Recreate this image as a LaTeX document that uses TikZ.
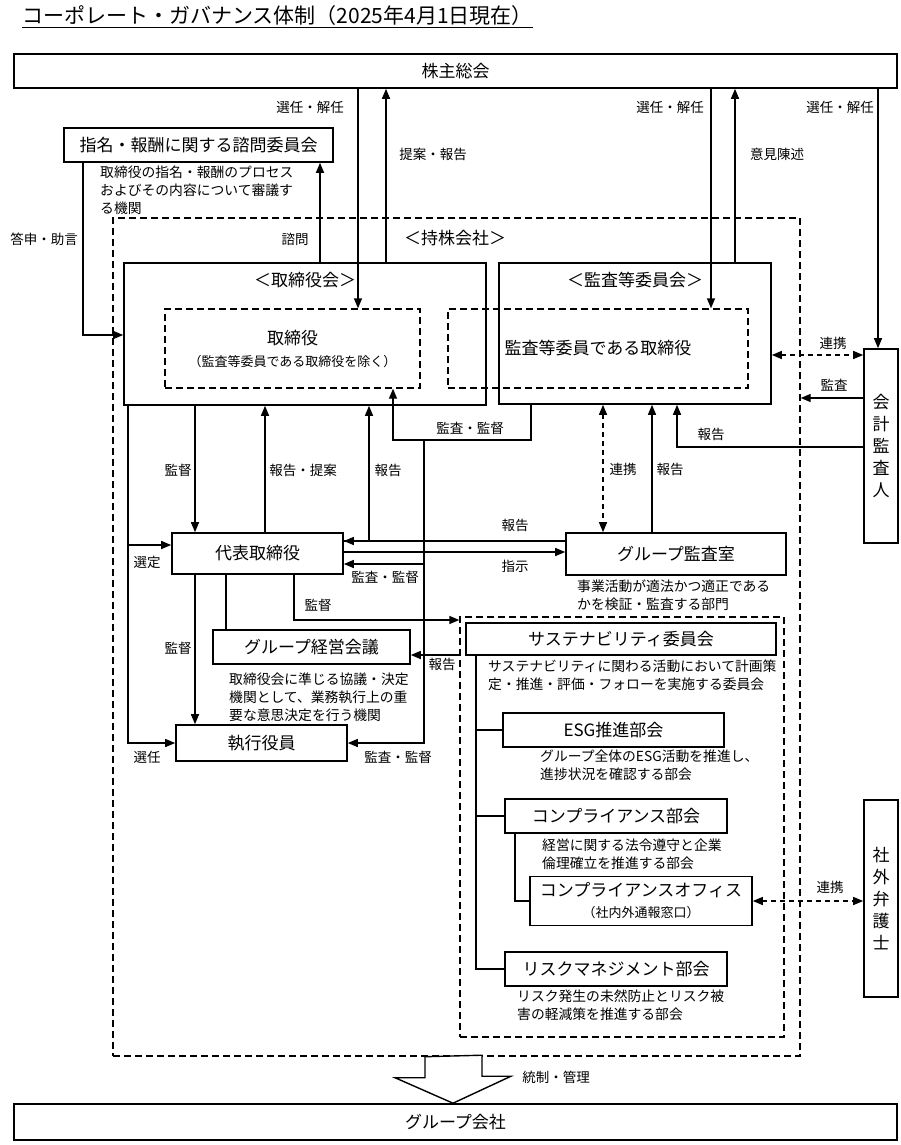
\documentclass[tikz,border=0pt]{standalone}
\usepackage{fontspec}
\setmainfont{Noto Sans CJK JP}
\usetikzlibrary{arrows.meta, calc}

\begin{document}
\begin{tikzpicture}[x=1pt, y=-1pt,
    box/.style={draw, line width=1.6pt, inner sep=0pt, font=\fontsize{17}{21}\selectfont},
    dbox/.style={draw, line width=1.4pt, dash pattern=on 7pt off 4pt, inner sep=0pt},
    head/.style={inner sep=0pt, font=\fontsize{17}{21}\selectfont},
    lbl/.style={inner sep=0pt, font=\fontsize{13.5}{17}\selectfont},
    desc/.style={anchor=north west, inner sep=0pt, align=left, font=\fontsize{13.8}{18}\selectfont},
    link/.style={line width=1.4pt},
    arr/.style={line width=1.4pt, -{Triangle[length=10pt, width=8pt]}},
    darr/.style={line width=1.4pt, dash pattern=on 5pt off 4pt, {Triangle[length=10pt, width=8pt]}-{Triangle[length=10pt, width=8pt]}}]
    \useasboundingbox (0,0) rectangle (900,1145);

    % Title
    \node[anchor=base west, inner sep=0pt, font=\fontsize{21}{25}\selectfont] (title) at (22,24) {コーポレート・ガバナンス体制（2025年4月1日現在）};
    \draw[line width=1pt] ([yshift=-4pt]title.base west) -- ([yshift=-4pt]title.base east);

    % Shareholders and group companies
    \node[box, minimum width=883, minimum height=34] (kabu) at (455.5,71) {株主総会};
    \node[box, minimum width=883, minimum height=36] (group) at (455.5,1122) {グループ会社};

    % Advisory committee
    \node[box, minimum width=269, minimum height=34] (shimon) at (198.5,145) {指名・報酬に関する諮問委員会};
    \node[desc] (shimondesc) at (100,166) {取締役の指名・報酬のプロセス\\およびその内容について審議す\\る機関};

    % Holding company
    \node[dbox, minimum width=687, minimum height=838] (hd) at (456.5,637) {};
    \node[head] (hdlbl) at (455,238) {＜持株会社＞};

    % Board of directors
    \node[box, minimum width=362, minimum height=142] (board) at (305,334) {};
    \node[head] (boardlbl) at (305,280) {＜取締役会＞};
    \node[dbox, minimum width=255, minimum height=79, align=center, font=\fontsize{17}{22}\selectfont] (dirs) at (292.5,348.5) {取締役\\{\fontsize{13}{16}\selectfont （監査等委員である取締役を除く）}};

    % Audit and supervisory committee
    \node[box, minimum width=272, minimum height=141] (acb) at (635,333.5) {};
    \node[head] (acblbl) at (635,280) {＜監査等委員会＞};
    \node[dbox, minimum width=300, minimum height=79, font=\fontsize{17}{21}\selectfont] (acdir) at (598,348.5) {監査等委員である取締役};

    % Accounting auditor
    \node[box, minimum width=34, minimum height=194, align=center, font=\fontsize{17}{22}\selectfont] (auditor) at (881,446) {会\\計\\監\\査\\人};

    % Executive side
    \node[box, minimum width=171, minimum height=41] (rep) at (257.5,553.5) {代表取締役};
    \node[box, minimum width=220, minimum height=42] (gaudit) at (676,554) {グループ監査室};
    \node[desc] (gauditdesc) at (577,580) {事業活動が適法かつ適正である\\かを検証・監査する部門};
    \node[box, minimum width=197, minimum height=34] (gmgmt) at (311.5,647) {グループ経営会議};
    \node[desc] (gmgmtdesc) at (229,673) {取締役会に準じる協議・決定\\機関として、業務執行上の重\\要な意思決定を行う機関};
    \node[box, minimum width=171, minimum height=36] (exec) at (261.5,743) {執行役員};

    % Sustainability committee
    \node[dbox, minimum width=324, minimum height=420] (sus) at (622,827) {};
    \node[box, minimum width=310, minimum height=32] (susc) at (621,639) {サステナビリティ委員会};
    \node[desc] (suscdesc) at (488,660) {サステナビリティに関わる活動において計画策\\定・推進・評価・フォローを実施する委員会};
    \node[box, minimum width=221, minimum height=34] (esg) at (613.5,730) {ESG推進部会};
    \node[desc] (esgdesc) at (540,750) {グループ全体のESG活動を推進し、\\進捗状況を確認する部会};
    \node[box, minimum width=222, minimum height=34] (comp) at (616,816) {コンプライアンス部会};
    \node[desc] (compdesc) at (542,839) {経営に関する法令遵守と企業\\倫理確立を推進する部会};
    \node[box, minimum width=222, minimum height=49, align=center] (compo) at (641,901) {コンプライアンスオフィス\\{\fontsize{13}{16}\selectfont （社内外通報窓口）}};
    \node[box, minimum width=222, minimum height=34] (risk) at (616,969) {リスクマネジメント部会};
    \node[desc] (riskdesc) at (517,990) {リスク発生の未然防止とリスク被\\害の軽減策を推進する部会};

    % Outside lawyer
    \node[box, minimum width=34, minimum height=197, align=center, font=\fontsize{17}{22}\selectfont] (lawyer) at (881,898.5) {社\\外\\弁\\護\\士};

    % Shareholders' meeting links
    \draw[arr] (kabu.south -| 358,0) -- (dirs.north -| 358,0);
    \draw[arr] (board.north -| 386,0) -- (kabu.south -| 386,0);
    \draw[arr] (kabu.south -| 711,0) -- (acdir.north -| 711,0);
    \draw[arr] (acb.north -| 735,0) -- (kabu.south -| 735,0);
    \draw[arr] (kabu.south -| 878,0) -- (auditor.north -| 878,0);
    \node[lbl] (lsel1) at (310,107) {選任・解任};
    \node[lbl] (lprop) at (433,154) {提案・報告};
    \node[lbl] (lsel2) at (670,107) {選任・解任};
    \node[lbl] (lopin) at (777,154) {意見陳述};
    \node[lbl] (lsel3) at (840,107) {選任・解任};

    % Advisory committee links
    \draw[arr] (shimon.south -| 83,0) |- (board.west |- 0,335);
    \draw[arr] (board.north -| 320,0) -- (shimon.south -| 320,0);
    \node[lbl] (ltoshin) at (44,239) {答申・助言};
    \node[lbl] (lshimon) at (295,239) {諮問};

    % Audit committee to directors and executives
    \draw[arr] (acb.south -| 531,0) -- ++(0,35) -| (dirs.south -| 393,0);
    \coordinate (aj) at (424,440);
    \draw[arr] (aj) |- (exec.east);
    \draw[arr] (aj |- 0,564) -- (rep.east |- 0,564);
    \node[lbl] (lkansa1) at (470,428) {監査・監督};
    \node[lbl] (lkansa2) at (385,577) {監査・監督};
    \node[lbl] (lkansa3) at (398,757) {監査・監督};

    % Accounting auditor links
    \draw[darr] (acb.east |- 0,355) -- (auditor.west |- 0,355);
    \draw[arr] (auditor.west |- 0,398) -- (hd.east |- 0,398);
    \draw[arr] (auditor.west |- 0,447) -| (acb.south -| 677,0);
    \node[lbl] (lrenkei1) at (833,343) {連携};
    \node[lbl] (lkansa4) at (834,385) {監査};
    \node[lbl] (lhoukoku1) at (711,434) {報告};

    % Board and representative director
    \draw[arr] (board.south -| 195,0) -- (rep.north -| 195,0);
    \draw[arr] (rep.north -| 265,0) -- (board.south -| 265,0);
    \draw[arr] (rep.east |- 0,541) -| (board.south -| 369,0);
    \draw[arr] (board.south -| 128,0) |- (rep.west |- 0,545);
    \draw[arr] (board.south -| 128,0) |- (exec.west);
    \node[lbl] (lkantoku1) at (178,470) {監督};
    \node[lbl] (lhoukoku2) at (303,470) {報告・提案};
    \node[lbl] (lhoukoku3) at (388,470) {報告};
    \node[lbl] (lsentei) at (147,562) {選定};
    \node[lbl] (lsennin) at (147,757) {選任};

    % Group audit office
    \draw[darr] (acb.south -| 603,0) -- (gaudit.north -| 603,0);
    \draw[arr] (gaudit.north -| 652,0) -- (acb.south -| 652,0);
    \draw[arr] (gaudit.west |- 0,541) -- (rep.east |- 0,541);
    \draw[arr] (rep.east |- 0,552) -- (gaudit.west |- 0,552);
    \node[lbl] (lrenkei2) at (623,469) {連携};
    \node[lbl] (lhoukoku4) at (670,469) {報告};
    \node[lbl] (lhoukoku5) at (515,525) {報告};
    \node[lbl] (lshiji) at (515,566) {指示};

    % Representative director downwards
    \draw[arr] (rep.south -| 195,0) -- (exec.north -| 195,0);
    \draw[link] (rep.south -| 226,0) -- (gmgmt.north -| 226,0);
    \draw[arr] (rep.south -| 294,0) |- (sus.west |- 0,620);
    \draw[arr] (sus.west |- 0,655) -- (gmgmt.east |- 0,655);
    \node[lbl] (lkantoku2) at (178,648) {監督};
    \node[lbl] (lkantoku3) at (318,605) {監督};
    \node[lbl] (lhoukoku6) at (442,664) {報告};

    % Sustainability tree
    \draw[link] (susc.south -| 476,0) |- (esg.west);
    \draw[link] (susc.south -| 476,0) |- (comp.west);
    \draw[link] (susc.south -| 476,0) |- (risk.west);
    \draw[link] (comp.south -| 515,0) |- (compo.west);
    \draw[darr] (compo.east) -- (lawyer.west |- compo.east);
    \node[lbl] (lrenkei3) at (830,887) {連携};

    % Control of group companies
    \draw[link, fill=white] (hd.south -| 425,0) -- ++(0,21) -- ++(-30,0) -- (group.north -| 453,0) -- ++(58,-27) -- ++(-29,0) -- ++(0,-21) -- cycle;
    \node[lbl] (ltousei) at (556,1077) {統制・管理};
\end{tikzpicture}
\end{document}
